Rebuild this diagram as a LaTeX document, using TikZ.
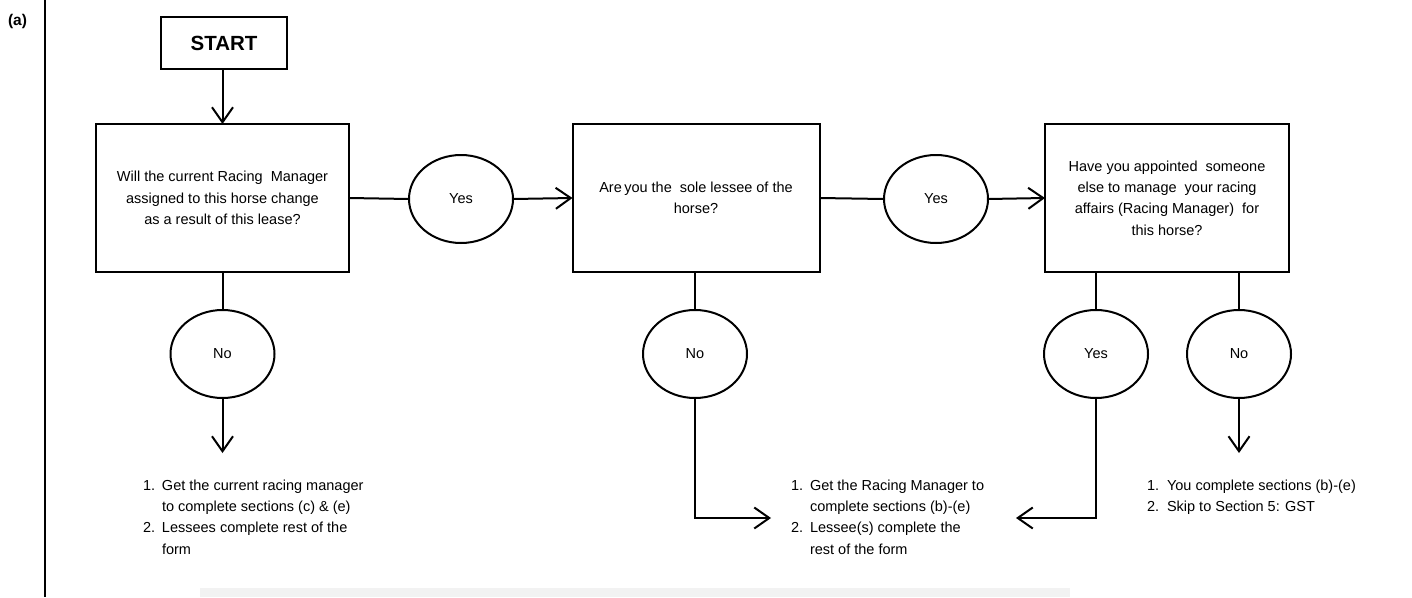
\documentclass[tikz,border=0pt]{standalone}
\usepackage{fontspec}
\setmainfont{Liberation Sans}
\usetikzlibrary{shapes.geometric,arrows.meta}
\begin{document}
\begin{tikzpicture}[x=1pt,y=-1pt,
  line width=2pt,
  every node/.style={inner sep=0pt,outer sep=0pt},
  txt/.style={font=\fontsize{14.5}{21.4}\selectfont},
  qbox/.style={draw,rectangle,minimum width=253pt,minimum height=148pt,align=center,txt},
  ans/.style={draw,ellipse,minimum width=104pt,minimum height=88pt,txt},
  arr/.style={-{Straight Barb[length=15pt,width=21pt]}},
  lst/.style={anchor=base west,txt,align=left}
]
\useasboundingbox (0,0) rectangle (1412,597);
\fill[black!5] (200,588) rectangle (1070,597);
\node[font=\fontsize{15.5}{18}\selectfont\bfseries] (lab) at (17.5,21) {(a)};
\draw (45,0) -- (45,597);

\node[draw,rectangle,minimum width=126pt,minimum height=52pt,font=\fontsize{20.5}{24}\selectfont\bfseries] (start) at (224,43) {START};
\node[qbox] (b1) at (222.5,198) {Will the current Racing\ \ Manager\\assigned to this horse change\\as a result of this lease?};
\node[qbox,minimum width=247pt] (b2) at (696,198) {Are\,you the\ \ sole lessee of the\\horse?};
\node[qbox,minimum width=244pt] (b3) at (1167,198) {Have you appointed\ \ someone\\else to manage\ \ your racing\\affairs (Racing Manager)\ \ for\\this horse?};

\node[ans] (y1) at (461,199) {Yes};
\node[ans] (y2) at (936,199) {Yes};
\node[ans] (n1) at (222.5,354) {No};
\node[ans] (n2) at (695,354) {No};
\node[ans] (y3) at (1096,354) {Yes};
\node[ans] (n3) at (1239,354) {No};

\coordinate (t1) at (222.5,453);
\coordinate (t3) at (1239,453);
\coordinate (c2) at (695,518);
\coordinate (e2) at (771,518);
\coordinate (c3) at (1096,518);
\coordinate (e3) at (1016,518);

\draw[arr] (start.south -| b1.north) -- (b1.north);
\draw (b1.east) -- (y1.west);
\draw[arr] (y1.east) -- (b2.west);
\draw (b2.east) -- (y2.west);
\draw[arr] (y2.east) -- (b3.west);
\draw (b1.south) -- (n1.north);
\draw[arr] (n1.south) -- (t1);
\draw (b2.south -| n2) -- (n2.north);
\draw[arr] (n2.south) -- (c2) -- (e2);
\draw (b3.south -| y3) -- (y3.north);
\draw (b3.south -| n3) -- (n3.north);
\draw[arr] (y3.south) -- (c3) -- (e3);
\draw[arr] (n3.south) -- (t3);

\node[lst] (l1) at (143,490) {\begin{tabular}[t]{@{}p{19pt}@{}l@{}}1. & Get the current racing manager\\ & to complete sections (c) \& (e)\\2. & Lessees complete rest of the\\ & form\end{tabular}};
\node[lst] (l2) at (791,490) {\begin{tabular}[t]{@{}p{19pt}@{}l@{}}1. & Get the Racing Manager to\\ & complete sections (b)-(e)\\2. & Lessee(s) complete the\\ & rest of the form\end{tabular}};
\node[lst] (l3) at (1147,490) {\begin{tabular}[t]{@{}p{20pt}@{}l@{}}1. & You complete sections (b)-(e)\\2. & Skip to Section 5: GST\end{tabular}};
\end{tikzpicture}
\end{document}
